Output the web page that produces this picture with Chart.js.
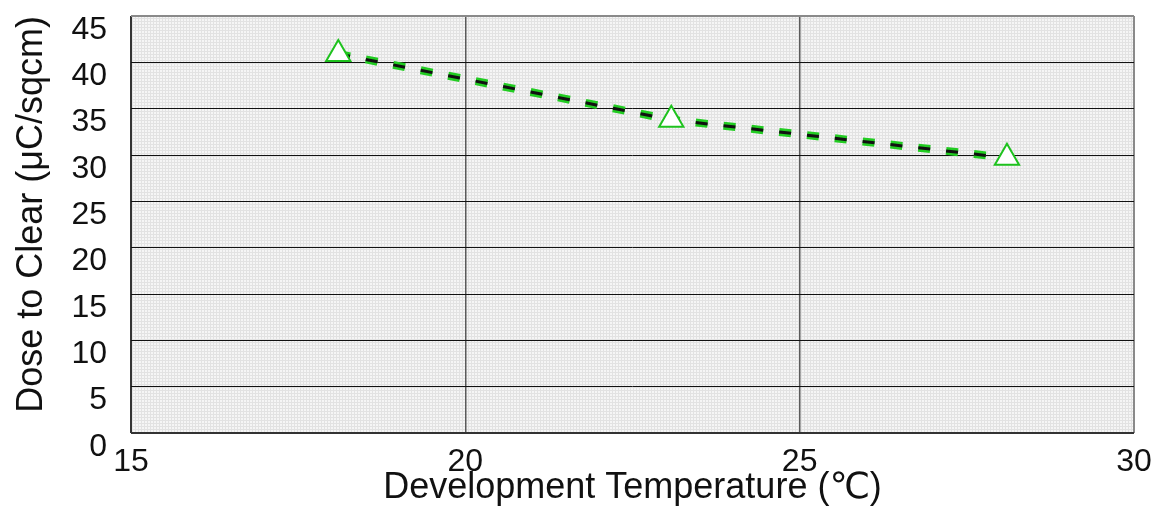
<!DOCTYPE html>
<html>
<head>
<meta charset="utf-8">
<script src="https://cdn.jsdelivr.net/npm/chart.js@4/dist/chart.umd.min.js"></script>
<style>
    html, body { margin: 0; padding: 0; background: #ffffff; }
    #wrap { width: 1162px; height: 525px; }
</style>
</head>
<body>
<div id="wrap"><canvas id="myChart" width="1162" height="525"></canvas></div>
<script>
// data
const temps = [18.1, 23.08, 28.1];
const doses = [40.9, 33.8, 29.7];
const xTicks = [15, 20, 25, 30];
const yTicks = [0, 5, 10, 15, 20, 25, 30, 35, 40, 45];

const xTitle = 'Development Temperature (\u2103)';
const yTitle = 'Dose to Clear (\u03bcC/sqcm)';

const fontFamily = '"Liberation Sans", Arial, "DejaVu Sans", sans-serif';

function makePattern() {
    const c = document.createElement('canvas');
    c.width = 3;
    c.height = 3;
    const g = c.getContext('2d');
    g.fillStyle = '#f5f5f5';
    g.fillRect(0, 0, 3, 3);
    g.fillStyle = '#e2e2e2';
    g.fillRect(0, 0, 3, 1);
    g.fillRect(0, 0, 1, 3);
    return g.createPattern(c, 'repeat');
}

const plotBackground = {
    id: 'plotBackground',
    beforeDraw(chart) {
        const {ctx, chartArea} = chart;
        ctx.save();
        ctx.fillStyle = makePattern();
        ctx.fillRect(chartArea.left, chartArea.top, chartArea.right - chartArea.left, chartArea.bottom - chartArea.top);
        ctx.restore();
    }
};

const points = temps.map((t, i) => ({x: t, y: doses[i]}));

const ctx = document.getElementById('myChart');
const myChart = new Chart(ctx, {
    type: 'scatter',
    data: {
        datasets: [
            {
                // markers
                data: points,
                showLine: false,
                pointStyle: 'triangle',
                pointRadius: 14,
                pointHoverRadius: 14,
                pointBackgroundColor: '#ffffff',
                pointBorderColor: '#1ec21e',
                pointBorderWidth: 2,
            },
            {
                // black core of the dashed line
                data: points,
                showLine: true,
                borderColor: '#111111',
                borderWidth: 3,
                borderDash: [12, 16],
                pointRadius: 0,
                tension: 0,
            },
            {
                // green halo of the dashed line
                data: points,
                showLine: true,
                borderColor: '#22cc22',
                borderWidth: 8,
                borderDash: [12, 16],
                borderCapStyle: 'butt',
                pointRadius: 0,
                tension: 0,
            },
        ]
    },
    plugins: [plotBackground],
    options: {
        responsive: false,
        animation: false,
        events: [],
        layout: {
            padding: {left: 0, right: 28, top: 12, bottom: 0}
        },
        plugins: {
            legend: {display: false},
            tooltip: {enabled: false},
        },
        scales: {
            x: {
                type: 'linear',
                min: 15,
                max: 30,
                afterBuildTicks: (scale) => {
                    scale.ticks = xTicks.map(v => ({value: v}));
                },
                afterFit: (scale) => {
                    scale.height = 92;
                    scale.paddingLeft = 0;
                    scale.paddingRight = 0;
                },
                grid: {
                    drawTicks: false,
                    color: (c) => c.tick.value === 30 ? '#8a8a8a' : (c.tick.value === 15 ? '#333333' : '#5a5a5a'),
                    lineWidth: (c) => (c.tick.value === 30 || c.tick.value === 15) ? 2 : 1.5,
                },
                border: {display: false},
                ticks: {
                    padding: 10,
                    color: '#111111',
                    font: {family: fontFamily, size: 32},
                    maxRotation: 0,
                },
                title: {
                    display: true,
                    text: xTitle,
                    color: '#111111',
                    font: {family: fontFamily, size: 36},
                    padding: {top: 0, bottom: 15},
                },
            },
            y: {
                type: 'linear',
                min: 0,
                max: 45,
                afterBuildTicks: (scale) => {
                    scale.ticks = yTicks.map(v => ({value: v}));
                },
                afterFit: (scale) => {
                    scale.width = 131;
                    scale.paddingTop = 0;
                    scale.paddingBottom = 0;
                },
                grid: {
                    drawTicks: false,
                    color: (c) => c.tick.value === 45 ? '#8a8a8a' : (c.tick.value === 0 ? '#333333' : '#111111'),
                    lineWidth: (c) => (c.tick.value === 45 || c.tick.value === 0) ? 2 : 1,
                },
                border: {display: false},
                ticks: {
                    padding: 24,
                    labelOffset: 14,
                    color: '#111111',
                    font: {family: fontFamily, size: 32},
                },
                title: {
                    display: true,
                    text: yTitle,
                    align: 'end',
                    color: '#111111',
                    font: {family: fontFamily, size: 36},
                    padding: {top: 10, bottom: 0},
                },
            }
        }
    }
});
</script>
</body>
</html>
